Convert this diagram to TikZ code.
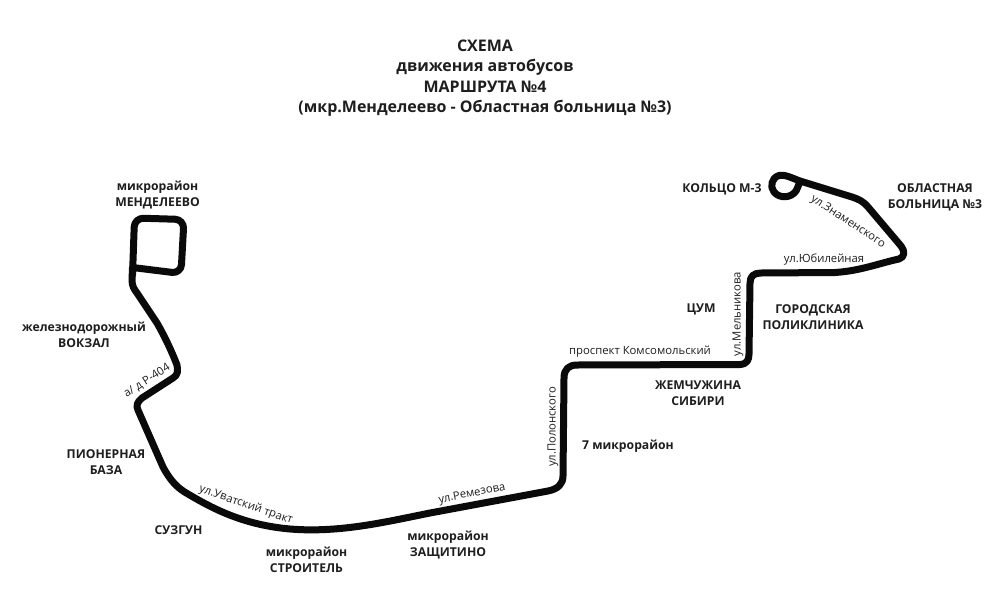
\documentclass[tikz,border=0pt]{standalone}
\usepackage{fontspec}
\setmainfont{Open Sans}
\definecolor{ink}{HTML}{0A0A0A}
\definecolor{txt}{HTML}{1E1E1E}
\tikzset{
  route/.style={draw=ink,line width=7pt,line join=round,line cap=round},
  stop/.style={font=\fontsize{12.2}{16}\selectfont\bfseries,text=txt,align=center,inner sep=0pt},
  street/.style={font=\fontsize{11.3}{13}\selectfont,text=txt,inner sep=0pt},
  head/.style={font=\fontsize{16}{20.3}\selectfont\bfseries,text=txt,align=center,inner sep=0pt}
}
\begin{document}
\begin{tikzpicture}[x=1pt,y=-1pt]
\useasboundingbox[fill=white] (0,0) rectangle (1000,594);
% depot loop
\draw[route,rounded corners=9pt] (132.5,275) -- (134.5,218) -- (184,219.5) -- (181,273.5) -- (132.5,267.5);
% main route
\draw[route] (132.5,268) -- (132,280)
  .. controls (132,286) and (134,289) .. (137,293)
  -- (157,323)
  .. controls (165,337) and (172,352) .. (177,365)
  .. controls (178,371) and (178,375) .. (173,378)
  -- (142,398)
  .. controls (137,402) and (136,406) .. (138,410)
  -- (163,467)
  .. controls (170,480) and (177,488) .. (188,494)
  .. controls (215,510) and (245,525) .. (290,529)
  .. controls (340,533) and (385,522) .. (430,513)
  -- (548,491)
  .. controls (558,489) and (563,484) .. (563,476)
  -- (564,378)
  .. controls (564,369) and (569,365) .. (577,365)
  -- (740,364.5)
  .. controls (747,364) and (749,360) .. (749,354)
  -- (750,283)
  .. controls (750,276) and (754,273) .. (761,273)
  -- (835,272.5)
  .. controls (860,271) and (880,263) .. (899,259)
  .. controls (905,257) and (905,251) .. (901,246)
  -- (868,207)
  .. controls (863,201) and (858,199) .. (852,197)
  -- (800,181)
  .. controls (792,178) and (784,174) .. (779,175.5)
  .. controls (771,178) and (770,187) .. (774,192)
  .. controls (780,199) and (791,198) .. (796,191)
  .. controls (798,187) and (799,184) .. (800,181);
% title
\node[head] (title) at (485,78) {СХЕМА\\движения автобусов\\МАРШРУТА №4\\(мкр.Менделеево - Областная больница №3)};
% stops
\node[stop] (s1) at (157.5,195) {микрорайон\\МЕНДЕЛЕЕВО};
\node[stop] (s2) at (84,335) {железнодорожный\\ВОКЗАЛ};
\node[stop] (s3) at (106,462) {ПИОНЕРНАЯ\\БАЗА};
\node[stop] (s4) at (178.5,530) {СУЗГУН};
\node[stop] (s5) at (306.5,560) {микрорайон\\СТРОИТЕЛЬ};
\node[stop] (s6) at (448,545) {микрорайон\\ЗАЩИТИНО};
\node[stop] (s7) at (628,446) {7 микрорайон};
\node[stop] (s8) at (698,393) {ЖЕМЧУЖИНА\\СИБИРИ};
\node[stop] (s9) at (701,309) {ЦУМ};
\node[stop] (s10) at (813,317) {ГОРОДСКАЯ\\ПОЛИКЛИНИКА};
\node[stop] (s11) at (722,189) {КОЛЬЦО М-3};
\node[stop] (s12) at (935,197) {ОБЛАСТНАЯ\\БОЛЬНИЦА №3};
% streets
\node[street,rotate=33] (u2) at (147,381) {а/ д Р-404};
\node[street,rotate=-19] (u3) at (246,505) {ул.Уватский тракт};
\node[street,rotate=11] (u4) at (472,494) {ул.Ремезова};
\node[street,rotate=90] (u5) at (553,427) {ул.Полонского};
\node[street] (u6) at (640,352) {проспект Комсомольский};
\node[street,rotate=90] (u7) at (738,314) {ул.Мельникова};
\node[street] (u8) at (824,260) {ул.Юбилейная};
\node[street,rotate=-33] (u9) at (848,222) {ул.Знаменского};
\end{tikzpicture}
\end{document}
